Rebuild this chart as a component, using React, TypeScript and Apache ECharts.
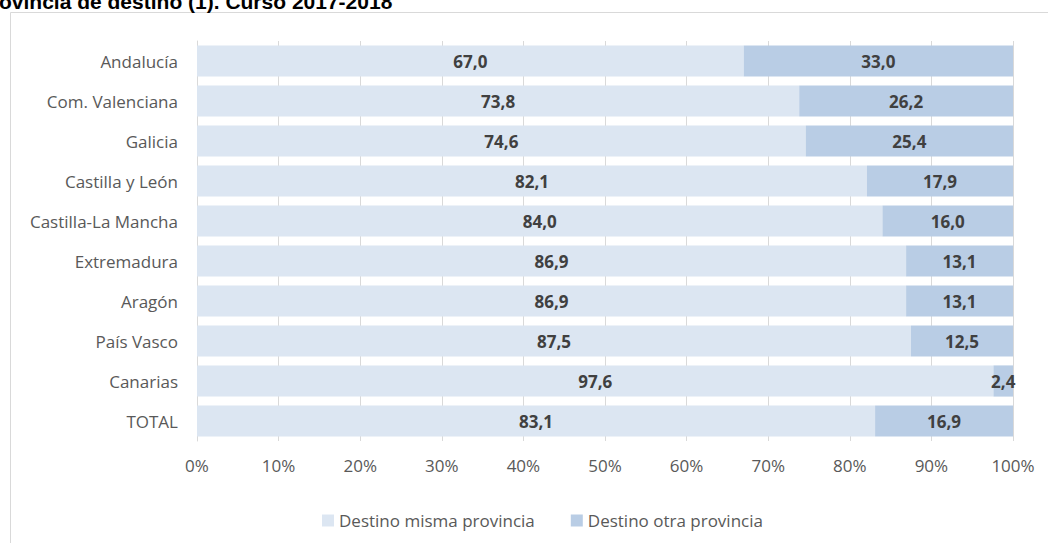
import React, { useEffect, useRef } from "react";
import * as echarts from "echarts";

const categories = [
  "Andalucía",
  "Com. Valenciana",
  "Galicia",
  "Castilla y León",
  "Castilla-La Mancha",
  "Extremadura",
  "Aragón",
  "País Vasco",
  "Canarias",
  "TOTAL",
];
const mismaProvincia = [67.0, 73.8, 74.6, 82.1, 84.0, 86.9, 86.9, 87.5, 97.6, 83.1];
const otraProvincia = [33.0, 26.2, 25.4, 17.9, 16.0, 13.1, 13.1, 12.5, 2.4, 16.9];
const seriesNames = ["Destino misma provincia", "Destino otra provincia"];
const titleText = "ovincia de destino (1). Curso 2017-2018";

const FONT = "'Open Sans', sans-serif";

export default function App() {
  const ref = useRef<HTMLDivElement>(null);
  useEffect(() => {
    if (!ref.current) return;
    const chart = echarts.init(ref.current, null, { renderer: "svg" });
    const fmt = (p: any) => Number(p.value).toFixed(1).replace(".", ",");
    const labelStyle = {
      show: true,
      position: "inside",
      formatter: fmt,
      color: "#404040",
      fontWeight: "bold",
      fontSize: 17,
      fontFamily: FONT,
    };
    chart.setOption({
      animation: false,
      backgroundColor: "#ffffff",
      textStyle: { fontFamily: FONT },
      grid: { left: 197, right: 35, top: 41, bottom: 102, containLabel: false },
      legend: {
        data: seriesNames,
        left: 317,
        top: 507,
        icon: "rect",
        itemWidth: 12,
        itemHeight: 12,
        itemGap: 36,
        textStyle: { color: "#595959", fontSize: 17, fontFamily: FONT },
      },
      xAxis: {
        type: "value",
        min: 0,
        max: 100,
        interval: 10,
        axisLine: { show: false },
        axisTick: { show: false },
        axisLabel: {
          formatter: "{value}%",
          color: "#595959",
          fontSize: 17,
          fontFamily: FONT,
          margin: 16,
        },
        splitLine: { show: true, lineStyle: { color: "#D9D9D9", width: 1 } },
      },
      yAxis: {
        type: "category",
        data: categories,
        inverse: true,
        axisLine: { show: true, lineStyle: { color: "#D9D9D9", width: 1 } },
        axisTick: { show: false },
        axisLabel: { color: "#595959", fontSize: 17, fontFamily: FONT, margin: 19 },
      },
      series: [
        {
          name: seriesNames[0],
          type: "bar",
          stack: "total",
          data: mismaProvincia,
          barCategoryGap: "22%",
          itemStyle: { color: "#DCE6F2" },
          label: labelStyle,
        },
        {
          name: seriesNames[1],
          type: "bar",
          stack: "total",
          data: otraProvincia,
          barCategoryGap: "22%",
          itemStyle: { color: "#B9CDE5" },
          label: labelStyle,
        },
      ],
      graphic: [
        {
          type: "rect",
          shape: { x: 10.5, y: 12.5, width: 1100, height: 600 },
          style: { fill: "none", stroke: "#D9D9D9", lineWidth: 1 },
          silent: true,
        },
        {
          type: "text",
          x: -1,
          y: 1,
          style: {
            text: titleText,
            fill: "#000000",
            verticalAlign: "middle",
            align: "left",
            font: "bold 21px 'Liberation Sans', Arial, sans-serif",
          },
        },
      ],
    });
    return () => chart.dispose();
  }, []);
  return (
    <div
      ref={ref}
      style={{ position: "fixed", left: 0, top: 0, width: 1048, height: 543 }}
    />
  );
}
